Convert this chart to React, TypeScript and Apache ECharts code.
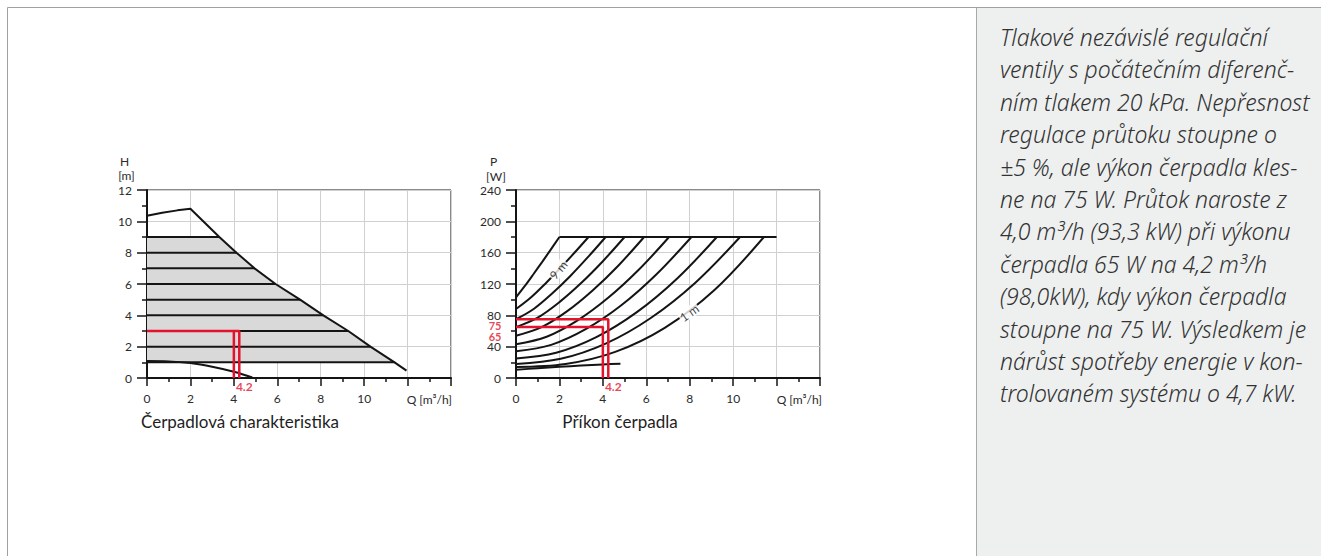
import React, { useEffect, useRef } from "react";
import * as echarts from "echarts";

const FONT = 'Lato, "Noto Sans", sans-serif';
const PANEL_FONT = '"Noto Sans", "Open Sans", sans-serif';
const RED = "#e2142d";
const INK = "#141414";

// ---------- Left chart: pump characteristic H [m] vs Q [m3/h]
const H_X_TICKS = [0, 2, 4, 6, 8, 10];
const H_Y_TICKS = [0, 2, 4, 6, 8, 10, 12];
const H_LEVELS = [1, 2, 3, 4, 5, 6, 7, 8, 9];
const H_LEVEL_ENDS = [11.4, 10.29, 9.27, 8.12, 7.05, 5.92, 4.95, 4.12, 3.33];
const H_MAX_HEAD = [[0, 10.35], [0.7, 10.55], [1.4, 10.7], [2, 10.8]];
const H_MAX_TAIL = [[11.95, 0.47]];
const H_MIN_CURVE = [[0, 1.08], [1, 1.06], [2, 0.95], [3, 0.72], [4, 0.4], [4.85, 0.04]];
const H_RED_A = [[0, 3], [4.25, 3], [4.25, 0]];
const H_RED_B = [[4.0, 3], [4.0, 0]];

// ---------- Right chart: pump power P [W] vs Q [m3/h]
const P_Y_TICKS = [0, 40, 80, 120, 160, 200, 240];
const P_MAX = [[0, 103], [0.4, 117.2], [0.8, 132.4], [1.2, 148], [1.6, 163.9], [2, 180]];
const P_9M = [[0, 88], [0.67, 102.4], [1.34, 120.1], [2.0, 139.1], [2.67, 159.2], [3.34, 180]];
const P_8M = [[0, 75], [0.83, 88.4], [1.65, 107.5], [2.48, 129.6], [3.3, 153.9], [4.13, 180]];
const P_7M = [[0, 65], [1, 77.1], [2, 96.9], [3, 121.2], [4, 149.1], [5, 180]];
const P_6M = [[0, 54], [1.18, 64.9], [2.36, 85.3], [3.54, 112], [4.72, 143.7], [5.9, 180]];
const P_5M = [[0, 43], [1.41, 52.6], [2.82, 73.2], [4.23, 102], [5.64, 137.8], [7.05, 180]];
const P_4M = [[0, 34], [1.62, 42.3], [3.23, 62.6], [4.85, 92.8], [6.46, 132.1], [8.08, 180]];
const P_3M = [[0, 25], [1.85, 32.3], [3.7, 52.2], [5.55, 83.7], [7.4, 126.4], [9.25, 180]];
const P_2M = [[0, 18], [2.06, 24.5], [4.13, 43.9], [6.19, 76.3], [8.26, 121.7], [10.32, 180]];
const P_1M = [[0, 14], [2.28, 17.8], [4.57, 33.3], [6.85, 64], [9.14, 112.3], [11.42, 180]];
const P_MIN = [[0, 10.5], [1, 12.5], [2, 14.3], [3, 15.9], [4, 17.3], [4.81, 18.3]];
const P_CAP = [[2, 180], [12, 180]];
const P_RED_A = [[0, 75], [4.25, 75], [4.25, 0]];
const P_RED_B = [[0, 65], [4.0, 65], [4.0, 0]];

const PANEL_LINES = [
  "Tlakové nezávislé regulační",
  "ventily s počátečním diferenč-",
  "ním tlakem 20 kPa. Nepřesnost",
  "regulace průtoku stoupne o",
  "±5 %, ale výkon čerpadla kles-",
  "ne na 75 W. Průtok naroste z",
  "4,0 m³/h (93,3 kW) při výkonu",
  "čerpadla 65 W na 4,2 m³/h",
  "(98,0kW), kdy výkon čerpadla",
  "stoupne na 75 W. Výsledkem je",
  "nárůst spotřeby energie v kon-",
  "trolovaném systému o 4,7 kW.",
];

const H_LEVEL_POINTS = H_LEVELS.map((h, i) => [H_LEVEL_ENDS[i], h]).reverse();
const H_MAX_CURVE = [...H_MAX_HEAD, ...H_LEVEL_POINTS, ...H_MAX_TAIL];
const GRAY_POLY = [[0, 9], ...H_LEVEL_POINTS, [0, 1]];

function xAxisFor(gridIndex: number) {
  return {
    type: "value",
    gridIndex,
    min: 0,
    max: 14,
    interval: 2,
    axisLine: { show: true, onZero: false, lineStyle: { color: INK, width: 2 } },
    axisTick: { show: true, length: 8, lineStyle: { color: INK, width: 1.5 } },
    minorTick: { show: true, splitNumber: 2, length: 4, lineStyle: { color: INK, width: 1.5 } },
    axisLabel: {
      color: "#2a2a2a",
      fontSize: 12,
      lineHeight: 12,
      fontFamily: FONT,
      margin: 14,
      formatter: (v: number) => (H_X_TICKS.includes(v) ? String(v) : ""),
    },
    splitLine: { show: true, lineStyle: { color: "#d0d0d0", width: 1 } },
  };
}

function yAxisFor(gridIndex: number, max: number, interval: number, ticks: number[]) {
  return {
    type: "value",
    gridIndex,
    min: 0,
    max,
    interval,
    axisLine: { show: true, onZero: false, lineStyle: { color: INK, width: 2 } },
    axisTick: { show: true, length: 10, lineStyle: { color: INK, width: 1.5 } },
    minorTick: { show: true, splitNumber: 2, length: 5, lineStyle: { color: INK, width: 1.5 } },
    axisLabel: {
      color: "#2a2a2a",
      fontSize: 12,
      lineHeight: 10,
      fontFamily: FONT,
      margin: 15,
      formatter: (v: number) => (ticks.includes(v) ? String(v) : ""),
    },
    splitLine: { show: true, lineStyle: { color: "#d0d0d0", width: 1 } },
  };
}

function blackLine(data: number[][], axis: number, smooth: number | boolean = false) {
  return {
    type: "line",
    xAxisIndex: axis,
    yAxisIndex: axis,
    data,
    smooth,
    showSymbol: false,
    symbol: "none",
    silent: true,
    z: 3,
    lineStyle: { color: INK, width: 2 },
  };
}

function redLine(data: number[][], axis: number) {
  return {
    type: "line",
    xAxisIndex: axis,
    yAxisIndex: axis,
    data,
    showSymbol: false,
    symbol: "none",
    silent: true,
    z: 6,
    lineStyle: { color: RED, width: 2.5 },
  };
}

function textMark(
  axis: number,
  point: number[],
  text: string,
  label: Record<string, unknown>
) {
  return {
    type: "scatter",
    xAxisIndex: axis,
    yAxisIndex: axis,
    data: [point],
    symbolSize: 1,
    silent: true,
    z: 8,
    itemStyle: { color: "rgba(0,0,0,0)" },
    label: { show: true, formatter: text, fontFamily: FONT, ...label },
  };
}

export default function App() {
  const ref = useRef<HTMLDivElement>(null);

  useEffect(() => {
    document.body.style.margin = "0";
    if (!ref.current) return;
    const chart = echarts.init(ref.current, undefined, { renderer: "svg" });

    const panelTexts = PANEL_LINES.map((t, i) => ({
      type: "text",
      x: 1000,
      y: 37 + i * 32.4,
      style: {
        text: t,
        fill: "#333333",
        fontSize: 23,
        fontFamily: PANEL_FONT,
        fontStyle: "italic",
        fontWeight: 300,
        verticalAlign: "middle",
        align: "left",
      },
    }));

    const smallText = (x: number, y: number, text: string, align = "center") => ({
      type: "text",
      x,
      y,
      style: {
        text,
        fill: "#2a2a2a",
        fontSize: 12,
        fontFamily: FONT,
        align,
        verticalAlign: "middle",
      },
    });

    const title = (x: number, text: string) => ({
      type: "text",
      x,
      y: 421,
      style: {
        text,
        fill: "#1e1e1e",
        fontSize: 17,
        fontFamily: FONT,
        align: "center",
        verticalAlign: "middle",
      },
    });

    const option = {
      animation: false,
      grid: [
        { left: 147, top: 190, width: 304, height: 188, show: true, borderColor: INK, borderWidth: 1 },
        { left: 516, top: 190, width: 304, height: 188, show: true, borderColor: INK, borderWidth: 1 },
      ],
      xAxis: [xAxisFor(0), xAxisFor(1)],
      yAxis: [yAxisFor(0, 12, 2, H_Y_TICKS), yAxisFor(1, 240, 40, P_Y_TICKS)],
      graphic: [
        {
          type: "rect",
          shape: { x: 976.5, y: 7.5, width: 350, height: 560 },
          style: { fill: "#eef0ef", stroke: "#a8a8a8", lineWidth: 1 },
          z: -10,
        },
        {
          type: "line",
          shape: { x1: 7.5, y1: 7.5, x2: 1321, y2: 7.5 },
          style: { stroke: "#a0a0a0", lineWidth: 1 },
        },
        {
          type: "line",
          shape: { x1: 7.5, y1: 7.5, x2: 7.5, y2: 556 },
          style: { stroke: "#a0a0a0", lineWidth: 1 },
        },
        smallText(124.5, 161, "H"),
        smallText(126.5, 175, "[m]"),
        smallText(493.5, 161, "P"),
        smallText(496, 176, "[W]"),
        smallText(452, 399, "Q [m³/h]", "right"),
        smallText(822, 399, "Q [m³/h]", "right"),
        title(240, "Čerpadlová charakteristika"),
        title(620, "Příkon čerpadla"),
        ...panelTexts,
      ],
      series: [
        {
          type: "custom",
          xAxisIndex: 0,
          yAxisIndex: 0,
          coordinateSystem: "cartesian2d",
          data: GRAY_POLY,
          silent: true,
          z: 1,
          renderItem: (params: any, api: any) => {
            if (params.dataIndex !== 0) return null;
            const pts = GRAY_POLY.map((p) => api.coord(p));
            return { type: "polygon", shape: { points: pts }, style: { fill: "#d9d9d9" } };
          },
        },
        ...H_LEVELS.map((h, i) => blackLine([[0, h], [H_LEVEL_ENDS[i], h]], 0)),
        blackLine(H_MAX_CURVE, 0),
        blackLine(H_MIN_CURVE, 0, 0.4),
        redLine(H_RED_A, 0),
        redLine(H_RED_B, 0),
        textMark(0, [4.25, 0], "4.2", {
          position: "bottom",
          distance: 2,
          offset: [5, 0],
          color: RED,
          fontWeight: "bold",
          fontSize: 12,
          lineHeight: 11,
        }),

        ...[P_MAX, P_9M, P_8M, P_7M, P_6M, P_5M, P_4M, P_3M, P_2M, P_1M].map((d) =>
          blackLine(d, 1, 0.35)
        ),
        blackLine(P_MIN, 1, 0.3),
        blackLine(P_CAP, 1),
        redLine(P_RED_A, 1),
        redLine(P_RED_B, 1),
        textMark(1, [4.25, 0], "4.2", {
          position: "bottom",
          distance: 2,
          offset: [5, 0],
          color: RED,
          fontWeight: "bold",
          fontSize: 12,
          lineHeight: 11,
        }),
        textMark(1, [0, 75], "75", {
          position: "left",
          distance: 14,
          offset: [0, 6],
          color: RED,
          fontWeight: "bold",
          fontSize: 11,
          lineHeight: 9,
        }),
        textMark(1, [0, 65], "65", {
          position: "left",
          distance: 14,
          offset: [0, 9],
          color: RED,
          fontWeight: "bold",
          fontSize: 11,
          lineHeight: 9,
        }),
        textMark(1, [1.96, 138], "9 m", {
          position: "inside",
          rotate: 50,
          color: INK,
          fontSize: 12,
          backgroundColor: "#fff",
          padding: [0, 1],
        }),
        textMark(1, [7.98, 83], "1 m", {
          position: "inside",
          rotate: 35,
          color: INK,
          fontSize: 12,
          backgroundColor: "#fff",
          padding: [0, 1],
        }),
      ],
    };

    chart.setOption(option as any);
    return () => chart.dispose();
  }, []);

  return <div ref={ref} style={{ width: 1321, height: 556 }} />;
}
